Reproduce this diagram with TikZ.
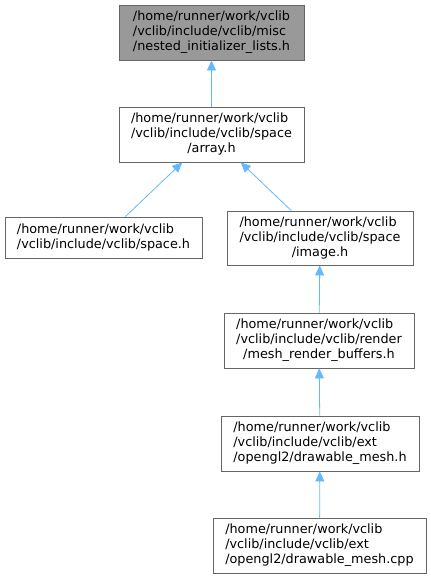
\documentclass[tikz,border=0pt]{standalone}
\usepackage{fontspec}
\setmainfont{DejaVu Sans}
\usetikzlibrary{arrows.meta}

\definecolor{edgeblue}{HTML}{63B8FF}
\definecolor{boxline}{HTML}{666666}
\definecolor{boxgray}{HTML}{999999}

% three path lines, the last one centred
\newcommand{\pathtxt}[3]{\begin{tabular}{@{}l@{}}#1\\#2\\\multicolumn{1}{@{}c@{}}{#3}\end{tabular}}

\tikzset{
  filebox/.style={draw=boxline, fill=white, inner sep=0pt, line width=0.8pt,
    font=\fontsize{12.8}{15}\selectfont},
  rootbox/.style={filebox, fill=boxgray},
  dep/.style={draw=edgeblue, line width=0.8pt, {Triangle[length=10pt,width=9pt]}-}
}

\begin{document}
\begin{tikzpicture}[x=1pt, y=-1pt]
    \useasboundingbox (0,0) rectangle (431,579);
    % Files
    \node[rootbox, minimum width=185, minimum height=55] (nested) at (211.5,32.5)
      {\pathtxt{/home/runner/work/vclib}{/vclib/include/vclib/misc}{/nested\_initializer\_lists.h}};
    \node[filebox, minimum width=185, minimum height=55] (array) at (211.5,134.5)
      {\pathtxt{/home/runner/work/vclib}{/vclib/include/vclib/space}{/array.h}};
    \node[filebox, minimum width=197, minimum height=41] (space) at (103.5,237.5)
      {\begin{tabular}{@{}l@{}}/home/runner/work/vclib\\/vclib/include/vclib/space.h\end{tabular}};
    \node[filebox, minimum width=186, minimum height=54] (image) at (320,238)
      {\pathtxt{/home/runner/work/vclib}{/vclib/include/vclib/space}{/image.h}};
    \node[filebox, minimum width=190, minimum height=55] (buffers) at (319,340.5)
      {\pathtxt{/home/runner/work/vclib}{/vclib/include/vclib/render}{/mesh\_render\_buffers.h}};
    \node[filebox, minimum width=198, minimum height=55] (meshh) at (320,443.5)
      {\pathtxt{/home/runner/work/vclib}{/vclib/include/vclib/ext}{/opengl2/drawable\_mesh.h}};
    \node[filebox, minimum width=213, minimum height=55] (meshcpp) at (319.5,545.5)
      {\pathtxt{/home/runner/work/vclib}{/vclib/include/vclib/ext}{/opengl2/drawable\_mesh.cpp}};

    % Includes
    \foreach \a/\b in {nested/array, array/space, array/image, image/buffers,
                       buffers/meshh, meshh/meshcpp} {
      \draw[dep] (\a) -- (\b);
    }
\end{tikzpicture}
\end{document}
